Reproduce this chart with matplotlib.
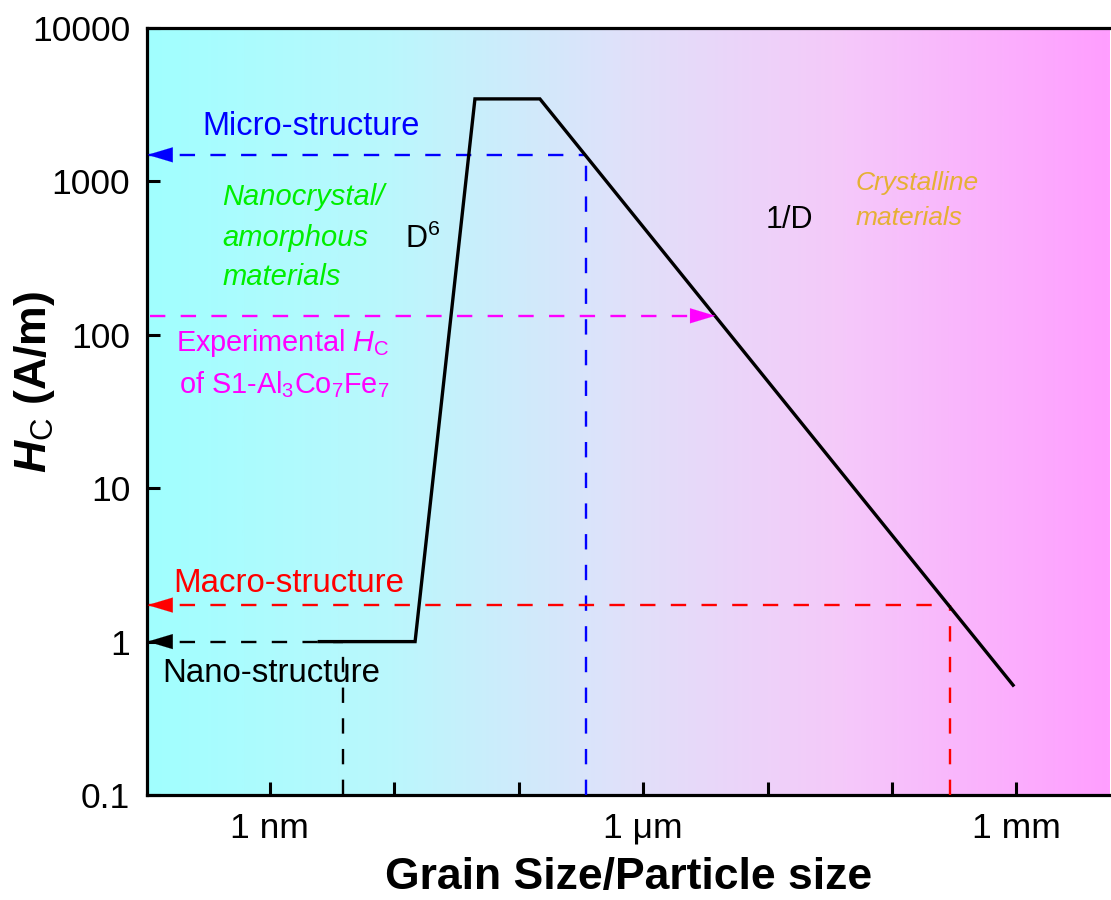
import numpy as np
import matplotlib
matplotlib.use('Agg')
import matplotlib.pyplot as plt
from matplotlib.colors import LinearSegmentedColormap

plt.rcParams['font.family'] = ['Liberation Sans', 'DejaVu Sans']
plt.rcParams['mathtext.fontset'] = 'custom'
plt.rcParams['mathtext.rm'] = 'Liberation Sans'
plt.rcParams['mathtext.it'] = 'Liberation Sans:italic'
plt.rcParams['mathtext.bf'] = 'Liberation Sans:bold'
plt.rcParams['mathtext.bfit'] = 'Liberation Sans:italic:bold'

# coercivity vs grain size (size in m, Hc in A/m)
size = [2.5e-9, 1.47e-8, 4.45e-8, 1.48e-7, 9.4e-4]
hc = [1.0, 1.0, 3450, 3450, 0.52]

# guide lines: y level, x where it meets the curve
micro_y, micro_x = 1490, 3.47e-7
exp_y, exp_x = 133, 3.8e-6
macro_y, macro_x = 1.73, 2.92e-4
nano_y, nano_x = 1.0, 3.9e-9

xticks = [1e-9, 1e-8, 1e-7, 1e-6, 1e-5, 1e-4, 1e-3]
xticklabels = ['1 nm', '', '', '1 \u03bcm', '', '', '1 mm']
yticks = [0.1, 1, 10, 100, 1000, 10000]
yticklabels = ['0.1', '1', '10', '100', '1000', '10000']

xmin, xmax = 1.03e-10, 5.65e-3
ymin, ymax = 0.1, 10000

fig = plt.figure(figsize=(11.11, 9), dpi=100)
pos = [147 / 1111, 1 - 795 / 900, (1110 - 147) / 1111, 767 / 900]

# gradient background
bg = fig.add_axes(pos, zorder=0)
cmap = LinearSegmentedColormap.from_list('bg', [
    (0.0, (0.63, 1.0, 1.0)),
    (0.25, (0.73, 0.97, 0.99)),
    (0.5, (0.88, 0.88, 0.98)),
    (0.72, (0.96, 0.79, 0.98)),
    (1.0, (1.0, 0.62, 1.0)),
])
bg.imshow(np.linspace(0, 1, 512)[None, :], cmap=cmap, aspect='auto',
          extent=[0, 1, 0, 1])
bg.axis('off')

ax = fig.add_axes(pos, zorder=1)
ax.patch.set_visible(False)
ax.set_xscale('log')
ax.set_yscale('log')
ax.set_xlim(xmin, xmax)
ax.set_ylim(ymin, ymax)

ax.plot(size, hc, color='black', lw=2.4, solid_joinstyle='miter', zorder=5)

dash = dict(lw=1.7, dashes=(6.5, 6.5))
head = dict(arrowstyle='-|>,head_length=0.9,head_width=0.27',
            mutation_scale=20, lw=0.1, shrinkA=0, shrinkB=0)


def left_arrow(y, x_end, color):
    ax.plot([xmin * 1.03, x_end], [y, y], color=color, **dash, zorder=4)
    ax.annotate('', xy=(xmin * 1.01, y), xytext=(18, 0), textcoords='offset points',
                arrowprops=dict(color=color, **head), zorder=6)


left_arrow(micro_y, micro_x, '#0000FF')
ax.plot([micro_x, micro_x], [ymin, micro_y], color='#0000FF', **dash, zorder=4)

left_arrow(macro_y, macro_x, '#FF0000')
ax.plot([macro_x, macro_x], [ymin, macro_y], color='#FF0000', **dash, zorder=4)

left_arrow(nano_y, nano_x, 'black')
ax.plot([nano_x, nano_x], [ymin, nano_y], color='black', **dash, zorder=4)

# experimental Hc arrow pointing to the curve
ax.plot([xmin * 1.06, exp_x * 0.78], [exp_y, exp_y], color='#FF00FF', **dash, zorder=4)
ax.annotate('', xy=(exp_x, exp_y), xytext=(-18, 0), textcoords='offset points',
            arrowprops=dict(color='#FF00FF', **head), zorder=6)

# labels
t = dict(transform=ax.transAxes, ha='left', va='center')
ax.text(0.058, 0.872, 'Micro-structure', color='#0000FF', fontsize=23.5, **t)
ax.text(0.078, 0.780, 'Nanocrystal/', color='#00EE00', fontsize=21, style='italic', **t)
ax.text(0.078, 0.726, 'amorphous', color='#00EE00', fontsize=21, style='italic', **t)
ax.text(0.078, 0.675, 'materials', color='#00EE00', fontsize=21, style='italic', **t)
ax.text(0.268, 0.724, r'D$^6$', color='black', fontsize=22, **t)
ax.text(0.642, 0.750, '1/D', color='black', fontsize=22, **t)
ax.text(0.736, 0.798, 'Crystalline', color='#E5B035', fontsize=19, style='italic', **t)
ax.text(0.736, 0.752, 'materials', color='#E5B035', fontsize=19, style='italic', **t)
ax.text(0.030, 0.589, r'Experimental $\mathit{H}_\mathrm{C}$', color='#FF00FF', fontsize=20.8, **t)
ax.text(0.033, 0.535, r'of S1-Al$_3$Co$_7$Fe$_7$', color='#FF00FF', fontsize=20.8, **t)
ax.text(0.027, 0.276, 'Macro-structure', color='#FF0000', fontsize=23.8, **t)
ax.text(0.016, 0.159, 'Nano-structure', color='black', fontsize=23.8, **t)

ax.set_xticks(xticks)
ax.set_xticklabels(xticklabels)
ax.set_yticks(yticks)
ax.set_yticklabels(yticklabels)
ax.minorticks_off()
ax.tick_params(axis='both', direction='in', length=9.5, width=2.2, labelsize=25.5, pad=12)

for s in ['left', 'bottom', 'top']:
    ax.spines[s].set_linewidth(2.3)
ax.spines['right'].set_visible(False)

ax.set_xlabel('Grain Size/Particle size', fontsize=32, fontweight='bold', labelpad=9)
ax.set_ylabel(r'$\mathbfit{H}_\mathrm{C}$ (A/m)', fontsize=32, fontweight='bold')
ax.yaxis.set_label_coords(-0.093, 0.538)

fig.savefig('out.png', dpi=100)
